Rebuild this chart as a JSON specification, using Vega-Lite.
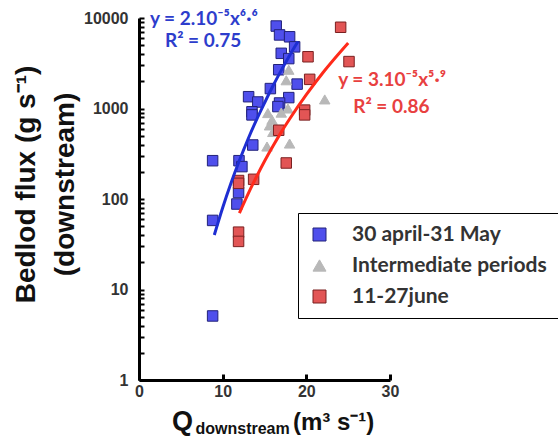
{
  "$schema": "https://vega.github.io/schema/vega-lite/v6.json",
  "width": 251,
  "height": 362,
  "autosize": {"type": "none"},
  "padding": {"left": 139, "top": 18, "right": 168, "bottom": 57},
  "background": "white",
  "config": {
    "view": {"stroke": null},
    "axis": {"grid": false},
    "legend": {"symbolStrokeColor": "#333", "symbolStrokeWidth": 1}
  },
  "datasets": {
    "points": [
      {"series": "30 april-31 May", "Q": 16.4, "flux": 8150},
      {"series": "30 april-31 May", "Q": 16.8, "flux": 6500},
      {"series": "30 april-31 May", "Q": 18.0, "flux": 6200},
      {"series": "30 april-31 May", "Q": 18.6, "flux": 4800},
      {"series": "30 april-31 May", "Q": 17.0, "flux": 4070},
      {"series": "30 april-31 May", "Q": 17.9, "flux": 3560},
      {"series": "30 april-31 May", "Q": 16.7, "flux": 2680},
      {"series": "30 april-31 May", "Q": 18.9, "flux": 1860},
      {"series": "30 april-31 May", "Q": 15.7, "flux": 1660},
      {"series": "30 april-31 May", "Q": 13.1, "flux": 1350},
      {"series": "30 april-31 May", "Q": 14.2, "flux": 1180},
      {"series": "30 april-31 May", "Q": 17.9, "flux": 1320},
      {"series": "30 april-31 May", "Q": 16.8, "flux": 1150},
      {"series": "30 april-31 May", "Q": 16.6, "flux": 1050},
      {"series": "30 april-31 May", "Q": 13.5, "flux": 920},
      {"series": "30 april-31 May", "Q": 13.5, "flux": 850},
      {"series": "30 april-31 May", "Q": 13.6, "flux": 395},
      {"series": "30 april-31 May", "Q": 8.8, "flux": 265},
      {"series": "30 april-31 May", "Q": 11.95, "flux": 265},
      {"series": "30 april-31 May", "Q": 12.3, "flux": 228},
      {"series": "30 april-31 May", "Q": 11.9, "flux": 118},
      {"series": "30 april-31 May", "Q": 11.7, "flux": 88},
      {"series": "30 april-31 May", "Q": 8.8, "flux": 58},
      {"series": "30 april-31 May", "Q": 8.8, "flux": 5.1},
      {"series": "Intermediate periods", "Q": 17.9, "flux": 2680},
      {"series": "Intermediate periods", "Q": 17.6, "flux": 2050},
      {"series": "Intermediate periods", "Q": 22.2, "flux": 1260},
      {"series": "Intermediate periods", "Q": 15.4, "flux": 890},
      {"series": "Intermediate periods", "Q": 15.9, "flux": 750},
      {"series": "Intermediate periods", "Q": 16.0, "flux": 550},
      {"series": "Intermediate periods", "Q": 18.0, "flux": 410},
      {"series": "Intermediate periods", "Q": 15.3, "flux": 380},
      {"series": "Intermediate periods", "Q": 17.8, "flux": 1000},
      {"series": "Intermediate periods", "Q": 15.6, "flux": 650},
      {"series": "Intermediate periods", "Q": 17.0, "flux": 900},
      {"series": "11-27june", "Q": 24.1, "flux": 7900},
      {"series": "11-27june", "Q": 25.1, "flux": 3300},
      {"series": "11-27june", "Q": 20.2, "flux": 3730},
      {"series": "11-27june", "Q": 20.4, "flux": 2100},
      {"series": "11-27june", "Q": 19.8, "flux": 960},
      {"series": "11-27june", "Q": 19.8, "flux": 850},
      {"series": "11-27june", "Q": 16.7, "flux": 575},
      {"series": "11-27june", "Q": 17.6, "flux": 250},
      {"series": "11-27june", "Q": 13.7, "flux": 165},
      {"series": "11-27june", "Q": 11.9, "flux": 160},
      {"series": "11-27june", "Q": 11.9, "flux": 149},
      {"series": "11-27june", "Q": 11.9, "flux": 43},
      {"series": "11-27june", "Q": 11.9, "flux": 34}
    ],
    "blueFit": [
      {"Q": 9, "flux": 40}, {"Q": 10, "flux": 80}, {"Q": 11, "flux": 150},
      {"Q": 12, "flux": 266}, {"Q": 13, "flux": 452}, {"Q": 14, "flux": 734},
      {"Q": 15, "flux": 1150}, {"Q": 16, "flux": 1770}, {"Q": 17, "flux": 2640},
      {"Q": 18, "flux": 3860}, {"Q": 19, "flux": 5500}
    ],
    "redFit": [
      {"Q": 12, "flux": 70}, {"Q": 13, "flux": 112}, {"Q": 14, "flux": 173},
      {"Q": 15, "flux": 261}, {"Q": 16, "flux": 382}, {"Q": 17, "flux": 548},
      {"Q": 18, "flux": 765}, {"Q": 20, "flux": 1420}, {"Q": 22, "flux": 2500},
      {"Q": 25, "flux": 5300}
    ],
    "one": [{}]
  },
  "layer": [
    {
      "data": {"name": "points"},
      "mark": {"type": "point", "filled": true, "opacity": 1, "strokeWidth": 1},
      "encoding": {
        "x": {
          "field": "Q", "type": "quantitative",
          "scale": {"domain": [0, 30], "nice": false, "zero": false},
          "axis": {
            "values": [0, 10, 20, 30], "title": null, "labelFlush": false,
            "labelFont": "Liberation Sans", "labelFontSize": 16, "labelFontWeight": "bold", "labelColor": "#333",
            "domainColor": "black", "domainWidth": 3,
            "tickColor": "black", "tickWidth": 3, "tickSize": -6, "labelPadding": 9
          }
        },
        "y": {
          "field": "flux", "type": "quantitative",
          "scale": {"type": "log", "domain": [1, 10000], "nice": false},
          "axis": {
            "values": [1,2,3,4,5,6,7,8,9,10,20,30,40,50,60,70,80,90,100,200,300,400,500,600,700,800,900,1000,2000,3000,4000,5000,6000,7000,8000,9000,10000],
            "format": "d", "labelFlush": false,
            "labelExpr": "indexof(['1','10','100','1000','10000'], datum.label) >= 0 ? datum.label : ''",
            "labelFont": "Liberation Sans", "labelFontSize": 16, "labelFontWeight": "bold", "labelColor": "#333",
            "labelPadding": 16,
            "domainColor": "black", "domainWidth": 3,
            "tickColor": "black", "tickWidth": 2, "tickSize": -5,
            "title": ["Bedlod flux (g s⁻¹)", "(downstream)"],
            "titleFont": "Liberation Sans", "titleFontSize": 28, "titleFontWeight": "bold", "titleColor": "#111",
            "titleAngle": -90, "titleBaseline": "top", "titleAlign": "center",
            "titleX": -127, "titleY": 166, "titleLineHeight": 39
          }
        },
        "color": {
          "field": "series", "type": "nominal",
          "scale": {"domain": ["30 april-31 May", "Intermediate periods", "11-27june"], "range": ["#4f4fec", "#b8b8b8", "#e25555"]},
          "legend": {
            "title": null, "orient": "none", "legendX": 159, "legendY": 195,
            "strokeColor": "black", "padding": 11, "fillColor": "white",
            "labelFont": "Lato", "labelFontWeight": "bold", "labelFontSize": 21, "labelColor": "#333",
            "symbolSize": 169, "labelOffset": 22, "rowPadding": 9, "labelLimit": 400,
            "encode": {"legend": {"update": {"strokeWidth": {"value": 3}}}}
          }
        },
        "shape": {
          "field": "series", "type": "nominal",
          "scale": {"domain": ["30 april-31 May", "Intermediate periods", "11-27june"], "range": ["square", "triangle-up", "square"]}
        },
        "stroke": {
          "field": "series", "type": "nominal",
          "scale": {"domain": ["30 april-31 May", "Intermediate periods", "11-27june"], "range": ["#22227a", "#b8b8b8", "#7a2020"]},
          "legend": null
        },
        "size": {"value": 110}
      }
    },
    {
      "data": {"name": "blueFit"},
      "mark": {"type": "line", "color": "#1e2ed2", "strokeWidth": 3, "interpolate": "monotone"},
      "encoding": {
        "x": {"field": "Q", "type": "quantitative"},
        "y": {"field": "flux", "type": "quantitative"}
      }
    },
    {
      "data": {"name": "redFit"},
      "mark": {"type": "line", "color": "#ff2a1a", "strokeWidth": 3, "interpolate": "monotone"},
      "encoding": {
        "x": {"field": "Q", "type": "quantitative"},
        "y": {"field": "flux", "type": "quantitative"}
      }
    },
    {
      "data": {"name": "one"},
      "mark": {"type": "text", "text": "y = 2.10⁻⁵x⁶·⁶", "font": "Lato", "fontWeight": "bold", "fontSize": 19, "color": "#2d3dcc", "align": "left", "baseline": "middle"},
      "encoding": {"x": {"datum": 1.3}, "y": {"datum": 9750}}
    },
    {
      "data": {"name": "one"},
      "mark": {"type": "text", "text": "R² = 0.75", "font": "Lato", "fontWeight": "bold", "fontSize": 19, "color": "#2d3dcc", "align": "left", "baseline": "middle"},
      "encoding": {"x": {"datum": 3.1}, "y": {"datum": 5500}}
    },
    {
      "data": {"name": "one"},
      "mark": {"type": "text", "text": "y = 3.10⁻⁵x⁵·⁹", "font": "Lato", "fontWeight": "bold", "fontSize": 19, "color": "#e84040", "align": "left", "baseline": "middle"},
      "encoding": {"x": {"datum": 23.8}, "y": {"datum": 2065}}
    },
    {
      "data": {"name": "one"},
      "mark": {"type": "text", "text": "R² = 0.86", "font": "Lato", "fontWeight": "bold", "fontSize": 19, "color": "#e84040", "align": "left", "baseline": "middle"},
      "encoding": {"x": {"datum": 25.6}, "y": {"datum": 1040}}
    },
    {
      "data": {"name": "one"},
      "mark": {"type": "text", "text": "Q", "font": "Liberation Sans", "fontWeight": "bold", "fontSize": 27, "color": "#111", "align": "left", "baseline": "alphabetic"},
      "encoding": {"x": {"datum": 3.94}, "y": {"datum": 0.28}}
    },
    {
      "data": {"name": "one"},
      "mark": {"type": "text", "text": "downstream", "font": "Liberation Sans", "fontWeight": "bold", "fontSize": 16, "color": "#111", "align": "left", "baseline": "alphabetic"},
      "encoding": {"x": {"datum": 6.75}, "y": {"datum": 0.253}}
    },
    {
      "data": {"name": "one"},
      "mark": {"type": "text", "text": "(m³ s⁻¹)", "font": "Liberation Sans", "fontWeight": "bold", "fontSize": 24, "color": "#111", "align": "left", "baseline": "alphabetic"},
      "encoding": {"x": {"datum": 18.4}, "y": {"datum": 0.28}}
    }
  ]
}
